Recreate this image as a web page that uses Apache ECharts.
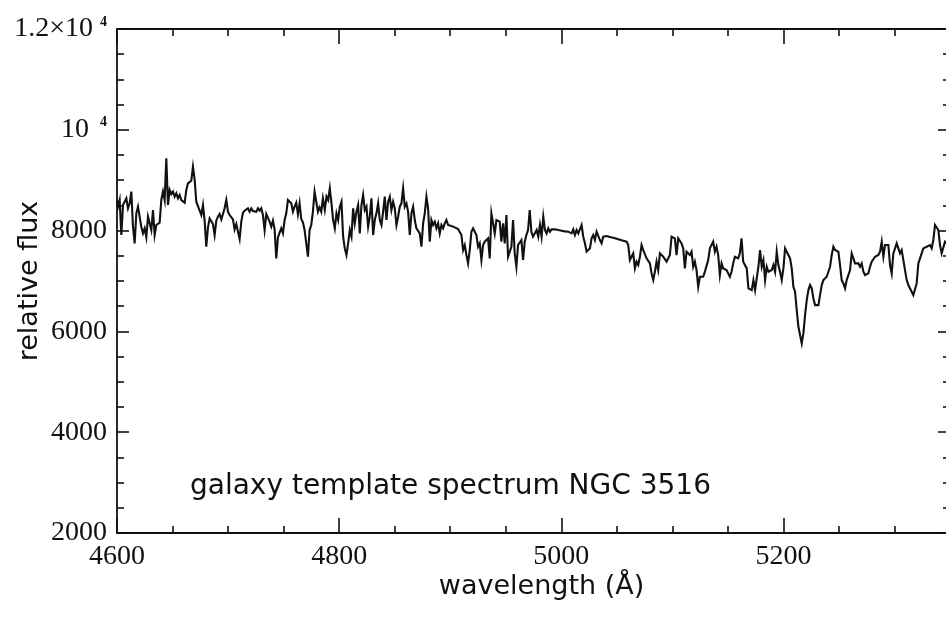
<!DOCTYPE html>
<html>
<head>
<meta charset="utf-8">
<title>NGC 3516 template spectrum</title>
<script src="https://cdn.jsdelivr.net/npm/echarts@6/dist/echarts.min.js"></script>
<style>
  html, body { margin: 0; padding: 0; background: #ffffff; }
  #chart { width: 946px; height: 618px; }
</style>
</head>
<body>
<div id="chart"></div>
<script>
// Wavelength samples (Angstrom)
const wavelength = [
  4600, 4600.9, 4602.4, 4603.9, 4605.4, 4606.9, 4608.4, 4609.9, 4611.4, 4612.9,
  4614.4, 4615.9, 4617.4, 4618.9, 4620.4, 4621.9, 4623.4, 4624.9, 4626.4, 4627.9,
  4629.4, 4630.9, 4632.4, 4633.9, 4635.4, 4636.9, 4638.4, 4639.9, 4641.4, 4642.9,
  4644.4, 4645.9, 4647.4, 4648.9, 4650.4, 4651.9, 4653.4, 4654.9, 4656.4, 4657.9,
  4659.4, 4660.9, 4662.4, 4663.9, 4665.4, 4666.9, 4668.4, 4669.9, 4671.4, 4672.9,
  4674.4, 4675.9, 4677.4, 4678.9, 4680.4, 4681.9, 4683.4, 4684.9, 4686.4, 4687.9,
  4689.4, 4690.9, 4692.4, 4693.9, 4695.4, 4696.9, 4698.4, 4699.9, 4701.4, 4702.9,
  4704.4, 4705.9, 4707.4, 4708.9, 4710.4, 4711.9, 4713.4, 4714.9, 4716.4, 4717.9,
  4719.4, 4720.9, 4722.4, 4723.9, 4725.4, 4726.9, 4728.4, 4729.9, 4731.4, 4732.9,
  4734.4, 4735.9, 4737.4, 4738.9, 4740.4, 4741.9, 4743.4, 4744.9, 4746.4, 4747.9,
  4749.4, 4750.9, 4752.4, 4753.9, 4755.4, 4756.9, 4758.4, 4759.9, 4761.4, 4762.9,
  4764.4, 4765.9, 4767.4, 4768.9, 4770.4, 4771.9, 4773.4, 4774.9, 4776.4, 4777.9,
  4779.4, 4780.9, 4782.4, 4783.9, 4785.4,
  4787.1, 4788.6, 4790.1, 4791.6, 4793.1, 4794.6, 4796.1, 4797.6, 4799.1, 4800.6,
  4802.1, 4803.6, 4805.1, 4806.6, 4808.1, 4809.6, 4811.1, 4812.6, 4814.1, 4815.6,
  4817.1, 4818.6, 4820.1, 4821.6, 4823.1, 4824.6, 4826.1, 4827.6, 4829.1, 4830.6,
  4832.1, 4833.6, 4835.1, 4836.6, 4838.1, 4839.6, 4841.1, 4842.6, 4844.1, 4845.6,
  4847.1, 4848.6, 4850.1, 4851.6, 4853.1, 4854.6, 4856.1, 4857.6, 4859.1, 4860.6,
  4862.1, 4863.6, 4865.1, 4866.6, 4868.1, 4869.6, 4871.1, 4872.6, 4874.1, 4875.6,
  4877.1, 4878.6, 4880.1, 4881.6, 4883.1, 4884.6, 4886.1, 4887.6, 4889.1, 4890.6,
  4892.1, 4893.6, 4895.1, 4896.6, 4898.1, 4899.6, 4901.1, 4902.6, 4904.1, 4905.6,
  4907.1, 4908.6, 4910.1, 4911.6, 4913.1, 4914.6, 4916.1, 4917.6, 4919.1, 4920.6,
  4922.1, 4923.6, 4925.1, 4926.6, 4928.1, 4929.6, 4931.1, 4932.6, 4934.1, 4935.6,
  4937.1, 4938.6, 4940.1, 4941.6, 4943.1, 4944.6, 4946.1, 4947.6, 4949.1, 4950.6,
  4952.1, 4953.6, 4955.1, 4956.6, 4958.1, 4959.6, 4961.1, 4962.6, 4964.1, 4965.6,
  4967.1, 4968.6, 4970.1, 4971.6, 4973.1, 4974.6,
  4976.3, 4977.8, 4979.3, 4980.8, 4982.3, 4983.8, 4985.3, 4986.8, 4988.3, 4989.8,
  4991.3, 4992.8, 4994.3, 4995.8, 4997.3, 4998.8, 5000.3, 5001.8, 5003.3, 5004.8,
  5006.3, 5007.8, 5009.3, 5010.8, 5012.3, 5013.8, 5015.3, 5016.8, 5018.3, 5019.8,
  5021.3, 5022.8, 5024.3, 5025.8, 5027.3, 5028.8, 5030.3, 5031.8, 5033.3, 5034.8,
  5036.3, 5037.8, 5039.3, 5040.8, 5042.3, 5043.8, 5045.3, 5046.8, 5048.3, 5049.8,
  5051.3, 5052.8, 5054.3, 5055.8, 5057.3, 5058.8, 5060.3, 5061.8, 5063.3, 5064.8,
  5066.3, 5067.8, 5069.3, 5070.8, 5072.3, 5073.8, 5075.3, 5076.8, 5078.3, 5079.8,
  5081.3, 5082.8, 5084.3, 5085.8, 5087.3, 5088.8, 5090.3, 5091.8, 5093.3, 5094.8,
  5096.3, 5097.8, 5099.3, 5100.8, 5102.3, 5103.8, 5105.3, 5106.8, 5108.3, 5109.8,
  5111.3, 5112.8, 5114.3, 5115.8, 5117.3, 5118.8, 5120.3, 5121.8, 5123.3, 5124.8,
  5126.3, 5127.8, 5129.3, 5130.8, 5132.3, 5133.8, 5135.3, 5136.8, 5138.3, 5139.8,
  5141.3, 5142.8, 5144.3, 5145.8, 5147.3, 5148.8, 5150.3, 5151.8, 5153.3, 5154.8,
  5156.3, 5157.8, 5159.3, 5160.8, 5162.3, 5163.8,
  5165.5, 5167, 5168.5, 5170, 5171.5, 5173, 5174.5, 5176, 5177.5, 5179,
  5180.5, 5182, 5183.5, 5185, 5186.5, 5188, 5189.5, 5191, 5192.5, 5194,
  5195.5, 5197, 5198.5, 5200, 5201.5, 5203, 5204.5, 5206, 5207.5, 5209,
  5210.5, 5212, 5213.5, 5215, 5216.5, 5218, 5219.5, 5221, 5222.5, 5224,
  5225.5, 5227, 5228.5, 5230, 5231.5, 5233, 5234.5, 5236, 5237.5, 5239,
  5240.5, 5242, 5243.5, 5245, 5246.5, 5248, 5249.5, 5251, 5252.5, 5254,
  5255.5, 5257, 5258.5, 5260, 5261.5, 5263, 5264.5, 5266, 5267.5, 5269,
  5270.5, 5272, 5273.5, 5275, 5276.5, 5278, 5279.5, 5281, 5282.5, 5284,
  5285.5, 5287, 5288.5, 5290, 5291.5, 5293, 5294.5, 5296, 5297.5, 5299,
  5300.5, 5302, 5303.5, 5305, 5306.5, 5308, 5309.5, 5311, 5312.5, 5314,
  5315.5, 5317, 5318.5, 5320, 5321.5, 5323, 5324.5, 5326, 5327.5, 5329,
  5330.5, 5332, 5333.5, 5335, 5336.5, 5338, 5339.5, 5341, 5342.5, 5344,
  5345.5, 5347
];

// Relative flux at each wavelength
const flux = [
  8607, 8475, 8607, 7912, 8508, 8541, 8640, 8442, 8541, 8773,
  8077, 7746, 8342, 8475, 8508, 8077, 7945, 8044, 7866, 8276,
  8144, 8011, 8408, 7912, 8111, 8144, 8157, 8607, 8773, 8607,
  9435, 8508, 8806, 8726, 8773, 8673, 8739, 8640, 8706, 8607,
  8640, 8554, 8806, 8938, 8905, 8991, 9269, 9017, 8574, 8541,
  8395, 8309, 8508, 8197, 7680, 8064, 8243, 8243, 8130, 7912,
  8197, 8276, 8329, 8223, 8329, 8442, 8607, 8375, 8309, 8329,
  8223, 8024, 8130, 8111, 7832, 8177, 8355, 8395, 8395, 8442,
  8375, 8442, 8389, 8408, 8375, 8442, 8395, 8442, 8309, 8011,
  8329, 8309, 8177, 8077, 8197, 8031, 7449, 7866, 7958, 8044,
  7945, 8210, 8342, 8607, 8640, 8541, 8375, 8475, 8554, 8322,
  8541, 8230, 8163, 8011, 7978, 7482, 8011, 8111, 8375, 8773,
  8574, 8375, 8461, 8375, 8640,
  8409, 8673, 8607, 8839, 8541, 8210, 8045, 8342, 8210, 8475,
  8574, 7879, 7647, 7515, 7747, 8011, 7879, 8442, 8144, 8376,
  8508, 7945, 8508, 8707, 8409, 8475, 8078, 8276, 8640, 7912,
  8210, 8342, 8541, 8210, 8111, 8376, 8673, 8210, 8574, 8673,
  8409, 8574, 8442, 8111, 8276, 8475, 8541, 8839, 8475, 8541,
  8376, 7912, 8342, 8475, 8210, 8045, 8011, 7945, 7680, 8144,
  8342, 8673, 8442, 7780, 8210, 8111, 8177, 8045, 8144, 7945,
  8111, 8045, 8144, 8210, 8111, 8111, 8091, 8078, 8064, 8045,
  8031, 8025, 7912, 7614, 7714, 7515, 7349, 7614, 7978, 8045,
  8011, 7912, 7680, 7747, 7416, 7714, 7780, 7813, 7846, 7449,
  8342, 8376, 7945, 8210, 8243, 8177, 7780, 8144, 7747, 8309,
  7482, 7515, 7680, 8210, 7548, 7283, 7714, 7680, 7813, 7416,
  7780, 7912, 8011, 8409, 7978, 7879,
  7846, 8012, 7879, 8111, 7879, 8276, 8012, 7945, 8045, 7979,
  8025, 8031, 8025, 8018, 8012, 8005, 7998, 7992, 7985, 7979,
  7979, 7979, 7945, 8025, 7912, 8012, 7945, 7979, 8111, 7879,
  7747, 7581, 7548, 7648, 7846, 7912, 7813, 7979, 7945, 7813,
  7747, 7879, 7846, 7892, 7886, 7873, 7866, 7859, 7853, 7840,
  7833, 7820, 7806, 7800, 7787, 7780, 7714, 7416, 7383, 7548,
  7250, 7383, 7317, 7482, 7714, 7614, 7648, 7449, 7482, 7350,
  7151, 7019, 7184, 7383, 7217, 7548, 7581, 7482, 7515, 7383,
  7416, 7515, 7879, 7879, 7846, 7515, 7846, 7813, 7747, 7648,
  7250, 7581, 7614, 7515, 7581, 7283, 7383, 7217, 6886, 7085,
  7118, 7085, 7184, 7217, 7416, 7648, 7614, 7780, 7581, 7681,
  7515, 7118, 7350, 7250, 7283, 7217, 7250, 7085, 7184, 7350,
  7482, 7515, 7449, 7548, 7846, 7383,
  7415, 7250, 6853, 6853, 6820, 7018, 6820, 6787, 7283, 7614,
  7283, 7415, 7018, 7283, 7184, 7184, 7217, 7316, 7184, 7581,
  7316, 7184, 7018, 7250, 7647, 7581, 7614, 7449, 7250, 6886,
  6787, 6422, 6091, 6125, 5760, 5959, 6323, 6621, 6820, 6919,
  6853, 6654, 6522, 6489, 6522, 6720, 6919, 7018, 7051, 7084,
  7184, 7283, 7515, 7680, 7614, 7647, 7581, 7316, 7018, 6952,
  6853, 7018, 7018, 7217, 7548, 7581, 7349, 7382, 7349, 7283,
  7349, 7184, 7118, 7118, 7151, 7283, 7382, 7382, 7482, 7515,
  7515, 7581, 7780, 7482, 7713, 7680, 7713, 7316, 7151, 7548,
  7581, 7746, 7647, 7548, 7614, 7415, 7382, 7018, 6919, 6886,
  6787, 6720, 6687, 6952, 7349, 7349, 7548, 7647, 7680, 7680,
  7680, 7713, 7647, 7813, 8111, 8077, 8011, 7713, 7548, 7581,
  7780, 7746
];

const xRange = [4600, 5350];
const yRange = [2000, 12000];
const xStep = 200;
const yStep = 2000;

const annotation = 'galaxy template spectrum NGC 3516';
const xTitle = 'wavelength (Å)';
const yTitle = 'relative flux';

const ink = '#111111';
const serif = '"Liberation Serif", "Times New Roman", serif';
const sans = '"DejaVu Sans", "Noto Sans", sans-serif';

const points = wavelength.map((w, i) => [w, flux[i]]);

// Tick labels: powers of ten get a raised exponent
function yTickLabel(v) {
  if (v === 12000) return '{m|1.2×10}{e1|4}';
  if (v === 10000) return '{m|10}{e2|4}';
  return '{m|' + v + '}';
}

const labelRich = {
  m: { fontFamily: serif, fontSize: 28, lineHeight: 28, color: ink },
  e1: { fontFamily: serif, fontSize: 14, fontWeight: 'bold', lineHeight: 10,
        verticalAlign: 'top', padding: [0, 0, 0, 7], color: ink },
  e2: { fontFamily: serif, fontSize: 14, fontWeight: 'bold', lineHeight: 10,
        verticalAlign: 'top', padding: [0, 0, 0, 11], color: ink }
};

function frameX(position, showLabels) {
  return {
    type: 'value',
    position: position,
    min: xRange[0],
    max: xRange[1],
    interval: xStep,
    axisLine: { show: true, onZero: false, lineStyle: { color: ink, width: 1.8 } },
    axisTick: { show: true, inside: true, length: 15, lineStyle: { color: ink, width: 1.6 } },
    minorTick: { show: true, splitNumber: 4, length: 7, lineStyle: { color: ink, width: 1.6 } },
    splitLine: { show: false },
    minorSplitLine: { show: false },
    axisLabel: {
      show: showLabels,
      margin: 10,
      fontFamily: serif,
      fontSize: 28,
      lineHeight: 28,
      color: ink,
      formatter: v => (v % xStep === 0 ? String(v) : '')
    }
  };
}

function frameY(position, showLabels) {
  return {
    type: 'value',
    position: position,
    min: yRange[0],
    max: yRange[1],
    interval: yStep,
    axisLine: { show: true, onZero: false, lineStyle: { color: ink, width: 1.8 } },
    axisTick: { show: true, inside: true, length: 12, lineStyle: { color: ink, width: 1.6 } },
    minorTick: { show: true, splitNumber: 4, length: 7, lineStyle: { color: ink, width: 1.6 } },
    splitLine: { show: false },
    minorSplitLine: { show: false },
    axisLabel: {
      show: showLabels,
      margin: 10,
      color: ink,
      formatter: yTickLabel,
      rich: labelRich
    }
  };
}

const xBottom = Object.assign(frameX('bottom', true), {
  name: xTitle,
  nameLocation: 'middle',
  nameGap: 40,
  nameMoveOverlap: false,
  nameTextStyle: { fontFamily: sans, fontSize: 27, color: ink, padding: [0, 0, 0, 16] }
});
const xTop = frameX('top', false);

const yLeft = Object.assign(frameY('left', true), {
  name: yTitle,
  nameLocation: 'middle',
  nameRotate: 90,
  nameGap: 74,
  nameMoveOverlap: false,
  nameTextStyle: { fontFamily: sans, fontSize: 27, color: ink }
});
const yRight = frameY('right', false);

const chart = echarts.init(document.getElementById('chart'), null, { renderer: 'canvas' });
chart.setOption({
  animation: false,
  backgroundColor: '#ffffff',
  title: {
    text: annotation,
    left: 190,
    top: 473,
    padding: 0,
    textStyle: { fontFamily: sans, fontSize: 28, fontWeight: 'normal', color: ink }
  },
  grid: { left: 117, top: 29, width: 833, height: 504, containLabel: false, outerBoundsMode: 'none' },
  xAxis: [xBottom, xTop],
  yAxis: [yLeft, yRight],
  series: [{
    type: 'line',
    data: points,
    xAxisIndex: 0,
    yAxisIndex: 0,
    showSymbol: false,
    symbol: 'none',
    silent: true,
    lineStyle: { color: ink, width: 2.1, join: 'miter' }
  }]
});
</script>
</body>
</html>
